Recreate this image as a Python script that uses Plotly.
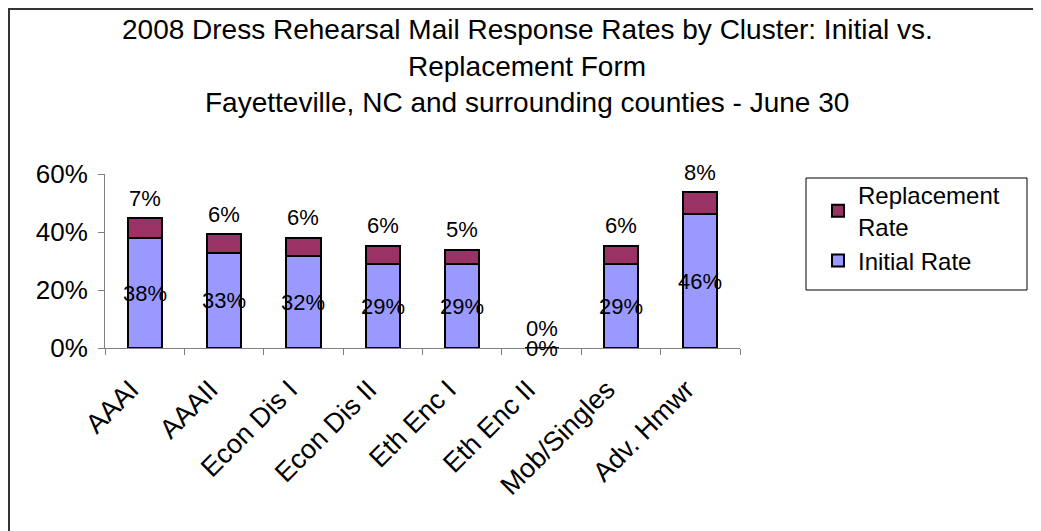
import plotly.graph_objects as go

categories = ["AAAI", "AAAII", "Econ Dis I", "Econ Dis II", "Eth Enc I", "Eth Enc II", "Mob/Singles", "Adv. Hmwr"]
initial_rate = [0.379, 0.329, 0.317, 0.289, 0.289, 0.0, 0.289, 0.462]
replacement_rate = [0.069, 0.064, 0.063, 0.063, 0.049, 0.0, 0.063, 0.075]
title_lines = [
    "2008 Dress Rehearsal Mail Response Rates by Cluster: Initial vs.",
    "Replacement Form",
    "Fayetteville, NC and surrounding counties - June 30",
]

W, H = 1041, 531
OFF = 8  # page body margin
L, R, T, B = 105 - OFF, 740 - OFF, 174 - OFF, 348 - OFF
FONT = "Liberation Sans, Arial, sans-serif"


def px_x(px):
    return (px - OFF - L) / (R - L)


def px_y(py):
    return (B - (py - OFF)) / (B - T)


fig = go.Figure()
fig.add_trace(go.Bar(
    x=categories, y=initial_rate, name="Initial Rate",
    marker=dict(color="#9999FF", line=dict(color="black", width=2)),
))
fig.add_trace(go.Bar(
    x=categories, y=replacement_rate, name="Replacement<br>Rate",
    marker=dict(color="#993366", line=dict(color="black", width=2)),
))

annotations = []
for c, a, b in zip(categories, initial_rate, replacement_rate):
    annotations.append(dict(x=c, y=a / 2, xref="x", yref="y", text=f"{round(a*100)}%",
                            showarrow=False, font=dict(size=22, color="black", family=FONT)))
    annotations.append(dict(x=c, y=a + b, xref="x", yref="y", text=f"{round(b*100)}%",
                            showarrow=False, yshift=20,
                            font=dict(size=22, color="black", family=FONT)))

for line, py in zip(title_lines, [30, 66, 102]):
    annotations.append(dict(x=px_x(527), y=px_y(py), xref="paper", yref="paper",
                            text=line, showarrow=False, xanchor="center", yanchor="middle",
                            font=dict(size=28, color="black", family=FONT)))

fig.update_layout(
    width=W, height=H,
    margin=dict(l=L, r=W - R, t=T, b=H - B, autoexpand=False),
    barmode="stack",
    bargap=0.57,
    paper_bgcolor="white",
    plot_bgcolor="white",
    font=dict(family=FONT, color="black", size=24),
    showlegend=True,
    legend=dict(
        x=px_x(818), y=px_y(173), xanchor="left", yanchor="top",
        traceorder="reversed",
        borderwidth=0, bgcolor="rgba(0,0,0,0)",
        font=dict(size=24, family=FONT, color="black"),
        tracegroupgap=0, itemwidth=30,
    ),
    annotations=annotations,
    shapes=[
        dict(type="rect", xref="paper", yref="paper",
             x0=px_x(OFF + 1), x1=px_x(1080), y0=px_y(580), y1=px_y(OFF + 1),
             line=dict(color="#333333", width=2), fillcolor="rgba(0,0,0,0)", layer="above"),
        dict(type="rect", xref="paper", yref="paper",
             x0=px_x(806), x1=px_x(1027), y0=px_y(290), y1=px_y(178),
             line=dict(color="black", width=1), fillcolor="rgba(0,0,0,0)", layer="above"),
    ],
)

fig.update_xaxes(
    showline=True, linecolor="#808080", linewidth=1,
    ticks="outside", tickson="boundaries", ticklen=6, tickcolor="#808080",
    tickangle=-45, tickfont=dict(size=27, family=FONT, color="black"),
    ticklabelstandoff=14, ticklabelshift=-14,
    showgrid=False,
)
fig.update_yaxes(
    range=[0, 0.6], dtick=0.2, tickformat=".0%",
    showline=True, linecolor="#808080", linewidth=1,
    ticks="outside", ticklen=6, tickcolor="#808080",
    tickfont=dict(size=26, family=FONT, color="black"),
    ticklabelstandoff=5,
    showgrid=False, zeroline=False,
)

fig.write_html("out.html")
